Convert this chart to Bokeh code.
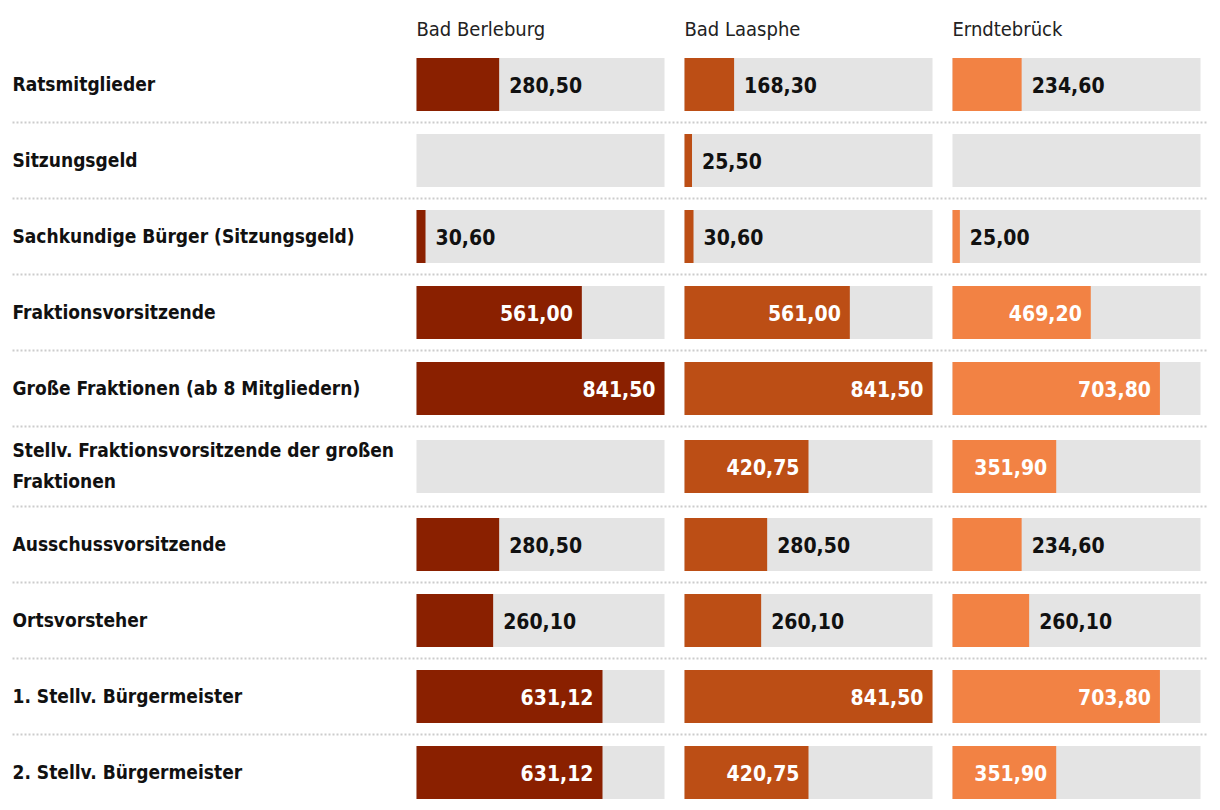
from bokeh.plotting import figure
from bokeh.models import ColumnDataSource, Range1d
from bokeh.core.properties import value
from bokeh.embed import file_html
from bokeh.resources import INLINE

# ---- data ----
columns = ["Bad Berleburg", "Bad Laasphe", "Erndtebrück"]
categories = [
    "Ratsmitglieder",
    "Sitzungsgeld",
    "Sachkundige Bürger (Sitzungsgeld)",
    "Fraktionsvorsitzende",
    "Große Fraktionen (ab 8 Mitgliedern)",
    "Stellv. Fraktionsvorsitzende der großen\nFraktionen",
    "Ausschussvorsitzende",
    "Ortsvorsteher",
    "1. Stellv. Bürgermeister",
    "2. Stellv. Bürgermeister",
]
bad_berleburg = [280.50, None, 30.60, 561.00, 841.50, None, 280.50, 260.10, 631.12, 631.12]
bad_laasphe = [168.30, 25.50, 30.60, 561.00, 841.50, 420.75, 280.50, 260.10, 841.50, 420.75]
erndtebrueck = [234.60, None, 25.00, 469.20, 703.80, 351.90, 234.60, 260.10, 703.80, 351.90]
series = [bad_berleburg, bad_laasphe, erndtebrueck]
colors = ["#8a2000", "#bc4e15", "#f28244"]

# ---- layout ----
W, H = 1212, 802
FONT = "DejaVu Sans Condensed"
max_val = max(v for s in series for v in s if v is not None)
col_left = [416, 684, 952]
col_w = 248
px = col_w / max_val
bar_h = 53
top0 = 46

p = figure(width=W, height=H, output_backend="svg", toolbar_location=None,
           x_range=Range1d(0, W), y_range=Range1d(H, 0), min_border=0)
p.axis.visible = False
p.grid.visible = False
p.outline_line_color = None
p.background_fill_color = "white"
p.border_fill_color = "white"

# rows geometry
centers, bounds = [], []
y = top0
for c in categories:
    h = 80 if "\n" in c else 76
    centers.append(y + h / 2)
    y += h
    bounds.append(y)
bounds = bounds[:-1]

# separators
p.multi_line(xs=[[12, 1207]] * len(bounds), ys=[[b, b] for b in bounds],
             line_color="#cccccc", line_width=2, line_dash="2 2")

# background bars
bg = dict(left=[], right=[], top=[], bottom=[])
for cl in col_left:
    for cy in centers:
        bg["left"].append(cl); bg["right"].append(cl + col_w)
        bg["top"].append(cy - bar_h / 2); bg["bottom"].append(cy + bar_h / 2)
p.quad(source=ColumnDataSource(bg), left="left", right="right", top="top",
       bottom="bottom", fill_color="#e4e4e4", line_color=None)

# value bars + labels
inx, iny, intxt = [], [], []
outx, outy, outtxt = [], [], []
for cl, s, col in zip(col_left, series, colors):
    d = dict(left=[], right=[], top=[], bottom=[])
    for cy, v in zip(centers, s):
        if v is None:
            continue
        end = cl + v * px
        d["left"].append(cl); d["right"].append(end)
        d["top"].append(cy - bar_h / 2); d["bottom"].append(cy + bar_h / 2)
        label = f"{v:.2f}".replace(".", ",")
        if v * px > 95:
            inx.append(end - 9); iny.append(cy); intxt.append(label)
        else:
            outx.append(end + 10); outy.append(cy); outtxt.append(label)
    p.quad(source=ColumnDataSource(d), left="left", right="right", top="top",
           bottom="bottom", fill_color=col, line_color=None)

p.text(x=inx, y=iny, text=intxt, text_align="right", text_baseline="middle",
       text_color="white", text_font=value(FONT), text_font_style="bold",
       text_font_size="21px")
p.text(x=outx, y=outy, text=outtxt, text_align="left", text_baseline="middle",
       text_color="#111111", text_font=value(FONT), text_font_style="bold",
       text_font_size="21px")

# category labels
p.text(x=[12] * len(categories), y=[c - 1 for c in centers], text=categories,
       text_align="left", text_baseline="middle", text_color="#111111",
       text_font=value(FONT), text_font_style="bold", text_font_size="19px",
       text_line_height=1.45)

# column headers
p.text(x=col_left, y=[28] * 3, text=columns, text_align="left",
       text_baseline="middle", text_color="#222222", text_font=value(FONT),
       text_font_size="20px")

open("out.html", "w").write(file_html(p, INLINE))
